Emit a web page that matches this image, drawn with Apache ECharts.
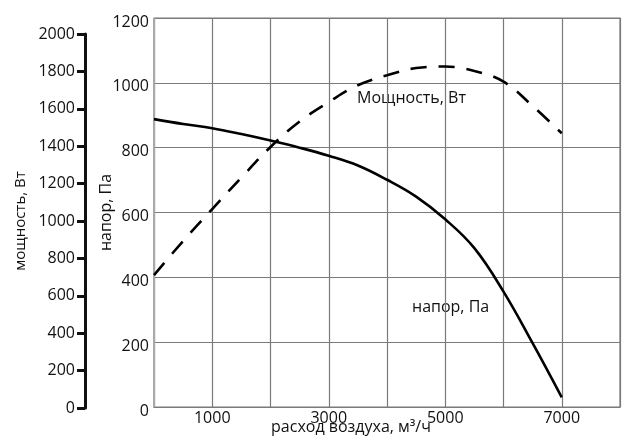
<!DOCTYPE html>
<html><head><meta charset="utf-8">
<script src="https://cdn.jsdelivr.net/npm/echarts@6/dist/echarts.min.js"></script>
<style>html,body{margin:0;padding:0;background:#fff}#c{width:624px;height:444px}</style>
</head><body><div id="c"></div>
<script>
var flow = [0, 500, 1000, 1500, 2000, 2500, 3000, 3500, 4000, 4500, 5000, 5500, 6000, 6500, 7000];
var pressure = [888, 873, 860, 842, 822, 800, 775, 745, 701, 649, 579, 490, 356, 197, 30];
var power = [711, 893, 1064, 1232, 1396, 1532, 1636, 1726, 1779, 1818, 1826, 1802, 1745, 1615, 1469];
var xTickLabels = ['1000', '3000', '5000', '7000'];
var pressureName = 'напор, Па';
var powerName = 'мощность, Вт';
var flowName = 'расход воздуха, м³/ч';
var powerNote = 'Мощность, Вт';
var pressureNote = 'напор, Па';

var FONT = 'Open Sans';
function pairs(xs, ys) { return xs.map(function (x, i) { return [x, ys[i]]; }); }
function plain(v) { return String(v); }

var chart = echarts.init(document.getElementById('c'), null, {renderer: 'canvas'});
chart.setOption({
  animation: false,
  backgroundColor: '#fff',
  textStyle: {fontFamily: FONT},
  grid: [
    {left: 154, right: 4, top: 18, bottom: 37, show: true, borderColor: '#7a7a7a', borderWidth: 1.2, containLabel: false, outerBoundsMode: 'none'},
    {left: 154, right: 4, top: 34, bottom: 36, show: false, containLabel: false, outerBoundsMode: 'none'}
  ],
  xAxis: [
    {
      type: 'value', gridIndex: 0, min: 0, max: 8000, interval: 1000,
      axisLine: {show: true, onZero: false, lineStyle: {color: '#7a7a7a', width: 1.2}},
      axisTick: {show: false},
      splitLine: {show: true, lineStyle: {color: '#7a7a7a', width: 1.2}},
      axisLabel: {
        color: '#111', fontSize: 16, fontFamily: FONT, margin: 3,
        formatter: function (v) { var s = String(v); return xTickLabels.indexOf(s) >= 0 ? s : ''; }
      },
      name: flowName, nameLocation: 'middle', nameGap: 12, nameMoveOverlap: false,
      nameTextStyle: {color: '#111', fontSize: 16, fontFamily: FONT, padding: [0, 72, 0, 0]}
    },
    {type: 'value', gridIndex: 1, min: 0, max: 8000, show: false}
  ],
  yAxis: [
    {
      type: 'value', gridIndex: 0, min: 0, max: 1200, interval: 200,
      axisLine: {show: true, onZero: false, lineStyle: {color: '#aaa', width: 1.2}},
      axisTick: {show: false},
      splitLine: {show: true, lineStyle: {color: '#7a7a7a', width: 1.2}},
      axisLabel: {
        color: '#111', fontSize: 16, fontFamily: FONT, margin: 5,
        formatter: function (v) { return '{a|' + v + '}'; },
        rich: {a: {color: '#111', fontSize: 16, fontFamily: FONT, padding: [8, 0, 0, 0]}}
      },
      name: pressureName, nameLocation: 'middle', nameGap: 40, nameMoveOverlap: false,
      nameTextStyle: {color: '#111', fontSize: 16, fontFamily: FONT}
    },
    {
      type: 'value', gridIndex: 1, min: 0, max: 2000, interval: 200, position: 'left', offset: 69,
      axisLine: {show: true, onZero: false, lineStyle: {color: '#111', width: 3}},
      axisTick: {show: true, inside: false, length: 8, lineStyle: {color: '#111', width: 3}},
      splitLine: {show: false},
      axisLabel: {color: '#111', fontSize: 16, fontFamily: FONT, margin: 10, formatter: plain},
      name: powerName, nameLocation: 'middle', nameGap: 57, nameMoveOverlap: false,
      nameTextStyle: {color: '#111', fontSize: 15, fontFamily: FONT}
    }
  ],
  graphic: [
    {type: 'text', left: 357, top: 90, style: {text: powerNote, fill: '#111', font: '16px "Open Sans"'}},
    {type: 'text', left: 412, top: 299, style: {text: pressureNote, fill: '#111', font: '16px "Open Sans"'}}
  ],
  series: [
    {
      type: 'line', xAxisIndex: 0, yAxisIndex: 0, data: pairs(flow, pressure),
      smooth: 0.4, showSymbol: false, lineStyle: {color: '#000', width: 2.6}, z: 5
    },
    {
      type: 'line', xAxisIndex: 1, yAxisIndex: 1, data: pairs(flow, power),
      smooth: 0.4, showSymbol: false, lineStyle: {color: '#000', width: 2.6, type: [16, 12]}, z: 5
    }
  ]
});
</script></body></html>
